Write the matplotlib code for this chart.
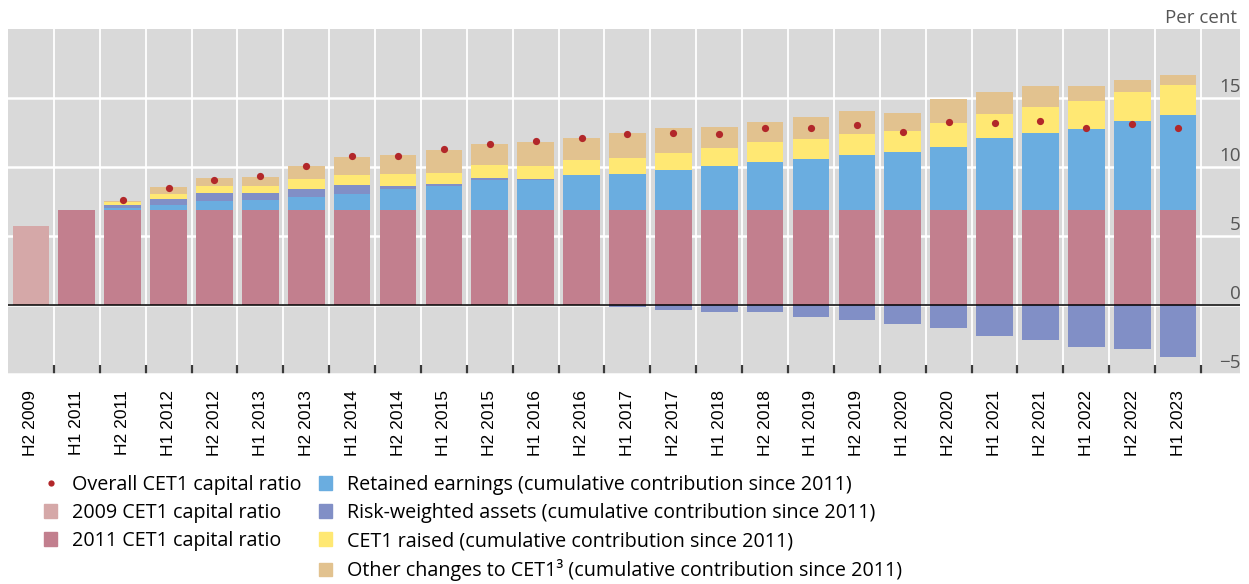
import numpy as np
import matplotlib
matplotlib.use("Agg")
import matplotlib.pyplot as plt
from matplotlib.patches import Patch
from matplotlib.lines import Line2D
from matplotlib.transforms import ScaledTranslation

plt.rcParams['font.family'] = ['Open Sans', 'DejaVu Sans']

# ---------------- data ----------------
categories = ["H2 2009", "H1 2011", "H2 2011", "H1 2012", "H2 2012", "H1 2013", "H2 2013",
              "H1 2014", "H2 2014", "H1 2015", "H2 2015", "H1 2016", "H2 2016",
              "H1 2017", "H2 2017", "H1 2018", "H2 2018", "H1 2019", "H2 2019",
              "H1 2020", "H2 2020", "H1 2021", "H2 2021", "H1 2022", "H2 2022", "H1 2023"]

cet1_2009 = [5.72] + [np.nan] * 25
cet1_2011 = [np.nan] + [6.92] * 25

nan = np.nan
retained = [nan, nan, 0.14, 0.36, 0.65, 0.72, 0.94, 1.09, 1.52, 1.69, 2.17, 2.17, 2.53,
            2.60, 2.89, 3.18, 3.47, 3.69, 3.93, 4.20, 4.56, 5.16, 5.52, 5.86, 6.39, 6.83]
rwa = [nan, nan, 0.22, 0.43, 0.58, 0.51, 0.58, 0.72, 0.22, 0.14, 0.14, 0.07, 0.0,
       -0.14, -0.36, -0.51, -0.51, -0.87, -1.09, -1.37, -1.66, -2.24, -2.53, -3.04, -3.18, -3.76]
raised = [nan, nan, 0.22, 0.36, 0.51, 0.51, 0.72, 0.72, 0.87, 0.84, 0.94, 0.94, 1.09,
          1.16, 1.23, 1.30, 1.45, 1.45, 1.52, 1.52, 1.74, 1.74, 1.88, 2.03, 2.10, 2.17]
other = [nan, nan, 0.07, 0.51, 0.51, 0.65, 0.94, 1.30, 1.37, 1.66, 1.52, 1.74, 1.59,
         1.81, 1.81, 1.52, 1.45, 1.59, 1.66, 1.30, 1.74, 1.59, 1.52, 1.09, 0.87, 0.72]
overall = [nan, nan, 7.62, 8.51, 9.07, 9.36, 10.08, 10.78, 10.83, 11.31, 11.67, 11.89, 12.11,
           12.40, 12.47, 12.37, 12.81, 12.83, 13.05, 12.57, 13.27, 13.19, 13.36, 12.86, 13.12, 12.86]

yticks = [-5, 0, 5, 10, 15]

# ---------------- style ----------------
c2009 = "#d5a8a8"
c2011 = "#c27f8e"
c_ret = "#6aade0"
c_rwa = "#818fc6"
c_raise = "#ffe873"
c_other = "#e2c28f"
c_dot = "#b2272a"
bg = "#d9d9d9"
grey_txt = "#555555"

W, H = 1249, 584
fig = plt.figure(figsize=(W / 100, H / 100), dpi=100)
ax = fig.add_axes([8 / W, 1 - 375 / H, (1240 - 8) / W, (375 - 29) / H])
ax.set_facecolor(bg)
for s in ax.spines.values():
    s.set_visible(False)

x = np.arange(len(categories))
bw = 0.8

b2011 = np.nan_to_num(np.array(cet1_2011, dtype=float))
ret = np.nan_to_num(np.array(retained, dtype=float))
rw = np.nan_to_num(np.array(rwa, dtype=float))
rai = np.nan_to_num(np.array(raised, dtype=float))
oth = np.nan_to_num(np.array(other, dtype=float))
rw_pos = np.where(rw > 0, rw, 0)
rw_neg = np.where(rw < 0, rw, 0)

ax.bar(x, cet1_2009, width=bw, color=c2009, zorder=2)
ax.bar(x, b2011, width=bw, color=c2011, zorder=2)
bottom = b2011.copy()
ax.bar(x, ret, bottom=bottom, width=bw, color=c_ret, zorder=2)
bottom += ret
ax.bar(x, rw_pos, bottom=bottom, width=bw, color=c_rwa, zorder=2)
bottom += rw_pos
ax.bar(x, rai, bottom=bottom, width=bw, color=c_raise, zorder=2)
bottom += rai
ax.bar(x, oth, bottom=bottom, width=bw, color=c_other, zorder=2)
ax.bar(x, rw_neg, width=bw, color=c_rwa, zorder=2)

ax.plot(x, overall, linestyle="none", marker="o", markersize=5.2, color=c_dot,
        markeredgewidth=0, zorder=4)

ax.axhline(0, color="black", linewidth=1.1, zorder=3)

ax.set_xlim(-0.5, 26.35)
ax.set_ylim(-5.07, 20)

# horizontal grid
ax.set_yticks(yticks)
ax.yaxis.grid(True, color="white", linewidth=1.8, zorder=1)
ax.set_axisbelow(True)
ax.tick_params(axis="y", which="major", left=False, right=False, labelleft=False,
               labelright=True, pad=-3, labelsize=13.5, labelcolor=grey_txt)
for lab in ax.get_yticklabels():
    lab.set_horizontalalignment("right")
    lab.set_verticalalignment("baseline")
    lab.set_transform(lab.get_transform() + ScaledTranslation(0, 6.5 / 100, fig.dpi_scale_trans))

# vertical grid / tick marks between categories
minor = np.append(x[:-1] + 0.5, x[-1] + 0.5)
ax.set_xticks(minor, minor=True)
ax.xaxis.grid(True, which="minor", color="white", linewidth=1.3, zorder=1)
ax.tick_params(axis="x", which="minor", direction="in", length=7, width=1.6, color="#3a3a3a",
               bottom=True, top=False)
ax.set_xticks(x)
ax.set_xticklabels(categories, rotation=90, fontsize=12.6, family="Liberation Sans", color="black")
ax.tick_params(axis="x", which="major", length=0, pad=11)

fig.text(1237 / W, 1 - 23 / H, "Per cent", ha="right", va="baseline", fontsize=13.5,
         color=grey_txt)

# legends
leg_kw = dict(frameon=False, loc="upper left", fontsize=14.2, handlelength=0.68,
              handleheight=0.68, handletextpad=0.72, labelspacing=0.41, borderpad=0,
              borderaxespad=0)
h1 = [Line2D([], [], linestyle="none", marker="o", markersize=4.5, color=c_dot, markeredgewidth=0),
      Patch(color=c2009), Patch(color=c2011)]
l1 = ["Overall CET1 capital ratio", "2009 CET1 capital ratio", "2011 CET1 capital ratio"]
fig.legend(h1, l1, bbox_to_anchor=(44 / W, 1 - 475 / H), **leg_kw)
h2 = [Patch(color=c_ret), Patch(color=c_rwa), Patch(color=c_raise), Patch(color=c_other)]
l2 = ["Retained earnings (cumulative contribution since 2011)",
      "Risk-weighted assets (cumulative contribution since 2011)",
      "CET1 raised (cumulative contribution since 2011)",
      "Other changes to CET1\u00b3 (cumulative contribution since 2011)"]
fig.legend(h2, l2, bbox_to_anchor=(319 / W, 1 - 475 / H), **leg_kw)

fig.savefig("out.png", dpi=100)
